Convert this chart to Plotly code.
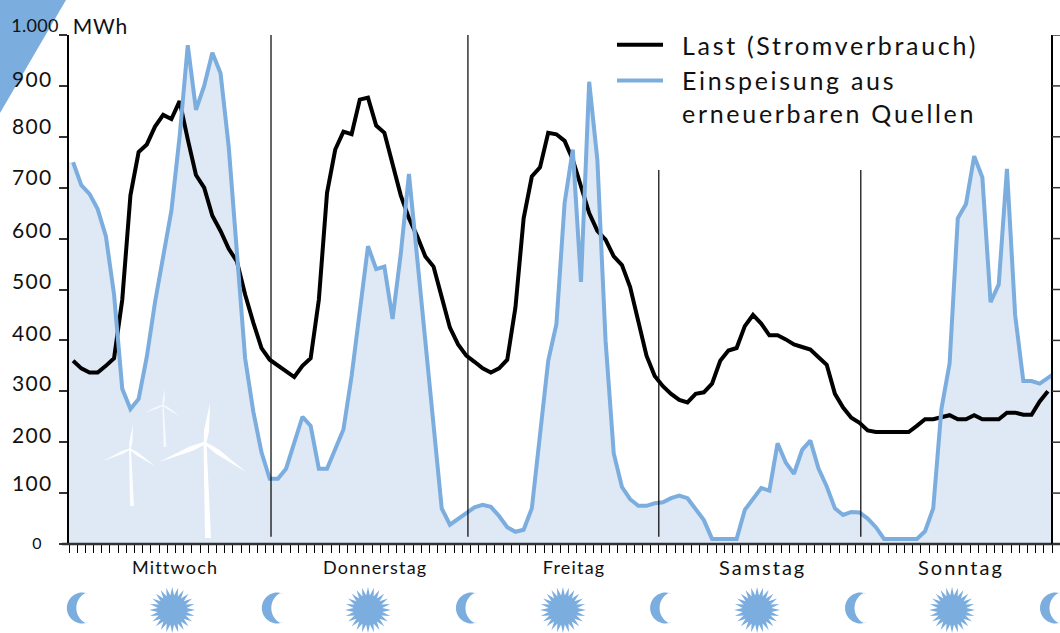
import math
import plotly.graph_objects as go

W, H = 1060, 633
L, R, T, B = 69, 1052, 35, 544

last_mwh = [360,345,337,337,350,365,480,685,770,785,820,843,835,870,795,725,700,645,615,580,555,490,435,385,
            362,350,338,328,350,365,480,690,775,810,805,873,877,822,808,750,685,640,605,565,545,485,425,392,
            370,358,345,337,345,362,465,640,722,740,808,805,792,755,700,650,615,598,565,548,505,440,370,330,
            310,295,283,278,295,298,315,360,380,385,428,450,433,410,410,402,392,387,382,367,352,295,268,248,
            238,223,220,220,220,220,220,232,245,245,250,253,245,245,253,245,245,245,258,258,254,254,280,300]
renew_mwh = [750,705,688,658,605,490,305,265,285,368,475,565,655,800,980,853,900,965,925,780,560,365,260,180,
             128,128,148,200,250,232,148,148,185,225,330,455,585,540,545,442,570,727,560,400,245,70,38,50,
             62,72,77,73,55,33,24,28,70,210,360,432,670,775,515,908,755,400,178,112,88,75,75,80,
             82,90,95,90,68,47,10,10,10,10,67,88,110,105,198,160,138,185,203,148,113,70,57,63,
             62,50,33,10,10,10,10,10,25,70,265,355,640,668,762,720,475,510,737,450,320,320,315,325]
renew_end = 332
hours = [i + 0.5 for i in range(len(last_mwh))]
y_ticks = [0,100,200,300,400,500,600,700,800,900,1000]
y_labels = ["0","100","200","300","400","500","600","700","800","900","1.000"]
y_label_shift = [2,11,8,9,8,9,9,11,11,7,10]
days = ["Mittwoch","Donnerstag","Freitag","Samstag","Sonntag"]
day_centres = [12.9,37.3,61.6,84.6,108.9]
day_sizes = [18,18,18,20,20]
day_bounds = [24.66,48.7,72,96.66]
day_line_tops = [1000,1000,735,735]
night_hours = [1.2,25,48.7,72.4,96.2,120]
noon_hours = [12.6,36.5,60.3,84,107.8]

BLUE = "#7badde"
FILL = "#dfe8f5"
FONT = "Lato"

def px(x): return (x - L) / (R - L)
def py(y): return (B - y) / (B - T)
def hx(h): return L + h * (R - L) / 120

def path(points):
    return "M " + " L ".join(f"{px(x):.5f},{py(y):.5f}" for x, y in points) + " Z"

def arc(cx, cy, r, a0, a1, n=24):
    return [(cx + r * math.cos(a0 + (a1 - a0) * i / n), cy + r * math.sin(a0 + (a1 - a0) * i / n)) for i in range(n + 1)]

def moon(cx, cy=608):
    ox = cx + 4.5
    outer = arc(ox, cy, 15.5, -math.radians(67), -math.radians(293), 30)
    inner = arc(ox + 11, cy, 17, math.radians(118), math.radians(242), 20)
    return outer + inner

def sun(cx, cy=610, n=24):
    pts = []
    for i in range(2 * n):
        r = 23 if i % 2 == 0 else 14.5
        a = math.pi * i / n - math.pi / 2
        pts.append((cx + r * math.cos(a), cy + r * math.sin(a)))
    return pts

def blade(hub, tip, w):
    hx_, hy_ = hub; tx, ty = tip
    d = math.hypot(tx - hx_, ty - hy_)
    nx, ny = -(ty - hy_) / d * w, (tx - hx_) / d * w
    mx, my = hx_ + (tx - hx_) * 0.3, hy_ + (ty - hy_) * 0.3
    return [(hx_ - nx * .5, hy_ - ny * .5), (mx - nx, my - ny), tip, (mx + nx, my + ny), (hx_ + nx * .5, hy_ + ny * .5)]

def turbine(hub, base, up, left, right, w, tw, op):
    out = []
    for tip in (up, left, right):
        out.append(dict(type="path", path=path(blade(hub, tip, w)), xref="paper", yref="paper",
                        fillcolor="white", line_width=0, opacity=op, layer="above"))
    tower = [(hub[0] - tw * .5, hub[1]), (hub[0] + tw * .5, hub[1]), (base[0] + tw, base[1]), (base[0] - tw, base[1])]
    out.append(dict(type="path", path=path(tower), xref="paper", yref="paper", fillcolor="white",
                    line_width=0, opacity=op, layer="above"))
    return out

shapes = []
shapes.append(dict(type="path", path=path([(0, 0), (66, 0), (0, 113)]), xref="paper", yref="paper",
                   fillcolor=BLUE, line_width=0, layer="below"))
shapes.append(dict(type="line", xref="paper", yref="paper", x0=px(62), x1=px(1060), y0=0, y1=0,
                   line=dict(color="#333333", width=2.4), layer="above"))
shapes.append(dict(type="line", xref="paper", yref="paper", x0=1, x1=1, y0=0, y1=1,
                   line=dict(color="black", width=2), layer="above"))
for v in y_ticks:
    shapes.append(dict(type="line", xref="paper", yref="y", x0=1, x1=px(1060), y0=v, y1=v,
                       line=dict(color="#333", width=1.5), layer="above"))
for b, top in zip(day_bounds, day_line_tops):
    shapes.append(dict(type="line", xref="x", yref="y", x0=b, x1=b, y0=14, y1=top,
                       line=dict(color="black", width=1.2), layer="above"))
for h in night_hours:
    shapes.append(dict(type="path", path=path(moon(hx(h) - 1)), xref="paper", yref="paper",
                       fillcolor=BLUE, line_width=0))
for h in noon_hours:
    shapes.append(dict(type="path", path=path(sun(hx(h))), xref="paper", yref="paper",
                       fillcolor=BLUE, line_width=0))
shapes += turbine((205, 443), (208, 538), (210, 403), (159, 462), (246, 472), 2.6, 3, 1)
shapes += turbine((130, 449), (132, 506), (133, 425), (103, 461), (155, 466), 1.6, 2, 0.9)
shapes += turbine((163, 405), (165, 447), (165, 388), (144, 413), (181, 417), 1.1, 1.4, 0.7)

annotations = [dict(text="MWh", x=px(72), y=py(26), xref="paper", yref="paper", xanchor="left", yanchor="middle",
                    showarrow=False, font=dict(family=FONT, size=21, color="#111"))]
for v, lab, sh in zip(y_ticks, y_labels, y_label_shift):
    if lab == "0":
        annotations.append(dict(text=lab, x=px(44), y=v, yshift=sh, xref="paper", yref="y", xanchor="right",
                                yanchor="middle", showarrow=False, font=dict(family=FONT, size=16, color="#111")))
    elif lab == "1.000":
        annotations.append(dict(text=lab, x=px(10), y=v, yshift=sh, xref="paper", yref="y", xanchor="left",
                                yanchor="middle", showarrow=False, font=dict(family=FONT, size=18, color="#111")))
    else:
        annotations.append(dict(text=lab, x=px(12), y=v, yshift=sh, xref="paper", yref="y", xanchor="left",
                                yanchor="middle", showarrow=False, font=dict(family=FONT, size=21, color="#111")))
for d, c, s in zip(days, day_centres, day_sizes):
    annotations.append(dict(text=d, x=c, y=py(567), xref="x", yref="paper", xanchor="center", yanchor="middle",
                            showarrow=False, font=dict(family=FONT, size=s, color="#111")))

fig = go.Figure()
fig.add_trace(go.Scatter(x=[0] + hours + [120], y=[renew_mwh[0]] + renew_mwh + [renew_end],
                         mode="lines", line=dict(width=0), fill="tozeroy", fillcolor=FILL,
                         showlegend=False, hoverinfo="skip"))
fig.add_trace(go.Scatter(x=hours, y=last_mwh, mode="lines", name="Last (Stromverbrauch)",
                         line=dict(color="black", width=4)))
fig.add_trace(go.Scatter(x=hours + [120], y=renew_mwh + [renew_end], mode="lines",
                         name="Einspeisung aus<br>erneuerbaren Quellen",
                         line=dict(color=BLUE, width=4)))
fig.update_layout(
    width=W, height=H, autosize=False, paper_bgcolor="white", plot_bgcolor="white",
    margin=dict(l=L, r=W - R, t=T, b=H - B),
    font=dict(family=FONT, color="#111"),
    shapes=shapes, annotations=annotations,
    legend=dict(x=px(612), y=py(22), xanchor="left", yanchor="top", bgcolor="rgba(0,0,0,0)",
                font=dict(family=FONT, size=25, color="#111"), itemwidth=46, tracegroupgap=0),
    xaxis=dict(range=[0, 120], tickmode="array", tickvals=list(range(0, 121)), ticktext=[""] * 121,
               ticks="outside", ticklen=8, tickwidth=1.2, tickcolor="black", showgrid=False, zeroline=False,
               showline=False),
    yaxis=dict(range=[0, 1000], tickmode="array", tickvals=y_ticks, ticktext=[""] * len(y_ticks),
               ticks="outside", ticklen=8, tickwidth=1.5, tickcolor="#333", showgrid=False, zeroline=False,
               showline=True, linecolor="black", linewidth=2),
)
post = """
document.body.style.margin='0';
var gd=document.querySelector('.plotly-graph-div');
gd.querySelectorAll('.legend .scrollbox').forEach(function(b){ b.removeAttribute('clip-path'); });
gd.querySelectorAll('.legend').forEach(function(b){ b.removeAttribute('clip-path'); });
gd.querySelectorAll('.legendtext').forEach(function(t){
  t.style.letterSpacing='2.7px';
  t.setAttribute('x', parseFloat(t.getAttribute('x'))+14);
  t.querySelectorAll('tspan').forEach(function(s){ if(s.getAttribute('x')) s.setAttribute('x', parseFloat(s.getAttribute('x'))+14); });
});
var tr=gd.querySelectorAll('.legend .traces');
if(tr.length>1){ var l=tr[1].querySelector('.legendlines'); if(l) l.setAttribute('transform','translate(0,-16)'); }
gd.querySelectorAll('.annotation-text').forEach(function(t){
  var s=t.textContent, ls='1.4px';
  if(s==='1.000') ls='0.3px';
  else if(s==='MWh') ls='0.8px';
  else if(s==='Samstag'||s==='Sonntag') ls='2px';
  else if(/[a-z]/.test(s)) ls='1.2px';
  t.style.letterSpacing=ls;
});
"""
fig.write_html("out.html", post_script=post, config=dict(displayModeBar=False))
